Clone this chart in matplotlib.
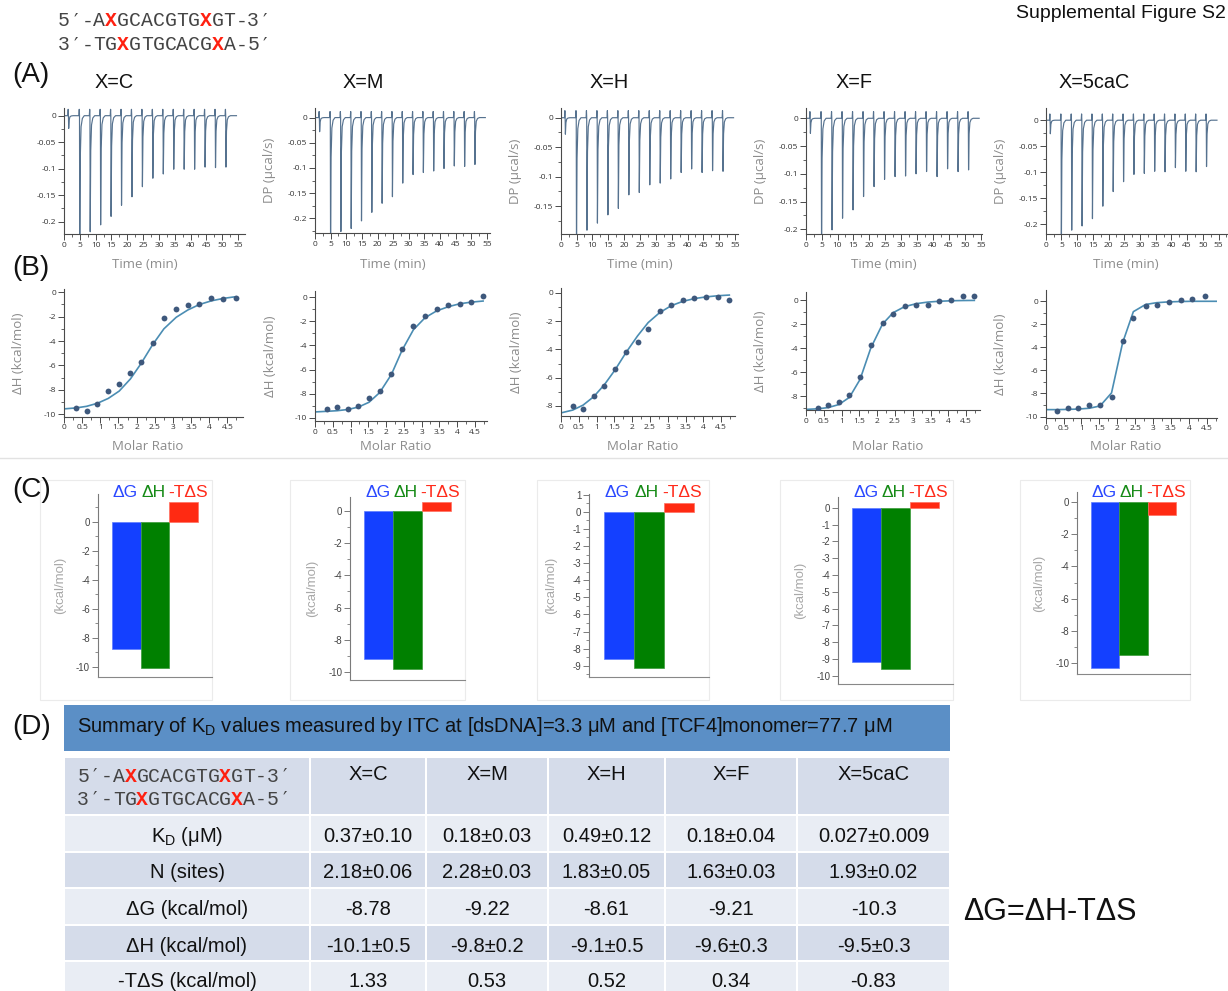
import matplotlib
matplotlib.use('Agg')
import matplotlib.pyplot as plt
from matplotlib.patches import Rectangle
from matplotlib.ticker import MultipleLocator, FuncFormatter
from matplotlib.transforms import blended_transform_factory

plt.rcParams['font.family'] = ['Liberation Sans', 'DejaVu Sans']

# ---------------- data ----------------
variants = ['C', 'M', 'H', 'F', '5caC']
titles = ['X=' + v for v in variants]

seq_top = "5′-AXGCACGTGXGT-3′"
seq_bot = "3′-TGXGTGCACGXA-5′"

# (A) thermograms: injection times (min) and peak depths (µcal/s)
inj_times = [1.4, 4.9, 8.2, 11.5, 14.8, 18.1, 21.4, 24.7, 28.0, 31.3, 34.6, 37.9, 41.2, 44.5, 47.8, 51.1]
depth_C = [-0.024, -0.26, -0.219, -0.206, -0.19, -0.169, -0.153, -0.134, -0.118, -0.110, -0.101, -0.101, -0.101, -0.097, -0.098, -0.097]
depth_M = [-0.028, -0.26, -0.226, -0.22, -0.205, -0.188, -0.17, -0.157, -0.130, -0.113, -0.109, -0.106, -0.101, -0.096, -0.097, -0.093]
depth_H = [-0.028, -0.23, -0.191, -0.179, -0.165, -0.154, -0.131, -0.127, -0.114, -0.111, -0.104, -0.093, -0.087, -0.093, -0.090, -0.091]
depth_F = [-0.027, -0.24, -0.201, -0.180, -0.165, -0.141, -0.123, -0.110, -0.105, -0.104, -0.100, -0.096, -0.105, -0.091, -0.096, -0.093]
depth_5caC = [-0.026, -0.25, -0.211, -0.203, -0.189, -0.165, -0.137, -0.118, -0.104, -0.102, -0.098, -0.099, -0.091, -0.098, -0.099, -0.089]
thermo_depths = [depth_C, depth_M, depth_H, depth_F, depth_5caC]
run_end = 54.5

# (B) isotherms: molar ratio, integrated heats (kcal/mol), fitted curve
ratio_C = [0.33, 0.62, 0.92, 1.22, 1.52, 1.83, 2.12, 2.44, 2.75, 3.09, 3.41, 3.73, 4.06, 4.39, 4.73]
heat_C = [-9.45, -9.73, -9.15, -8.09, -7.54, -6.58, -5.71, -4.15, -2.13, -1.34, -1.07, -0.96, -0.49, -0.57, -0.44]
fit_C = [-9.56, -9.48, -9.35, -9.1, -8.7, -8.1, -7.1, -5.85, -4.3, -3.0, -2.05, -1.45, -1.0, -0.7, -0.5, -0.36]

ratio_M = [0.33, 0.62, 0.92, 1.22, 1.52, 1.82, 2.15, 2.45, 2.77, 3.1, 3.42, 3.75, 4.08, 4.4, 4.73]
heat_M = [-9.26, -9.09, -9.26, -9.0, -8.35, -7.77, -6.36, -4.3, -2.4, -1.57, -0.99, -0.66, -0.58, -0.41, 0.08]
fit_M = [-9.5, -9.45, -9.4, -9.3, -9.1, -8.7, -7.9, -6.4, -4.4, -2.7, -1.7, -1.15, -0.8, -0.55, -0.42, -0.33]

ratio_H = [0.33, 0.62, 0.92, 1.22, 1.52, 1.82, 2.15, 2.45, 2.77, 3.1, 3.42, 3.75, 4.08, 4.4, 4.73]
heat_H = [-8.0, -8.2, -7.3, -6.6, -5.4, -4.2, -3.5, -2.55, -1.3, -0.85, -0.5, -0.35, -0.3, -0.3, -0.5]
fit_H = [-8.5, -8.3, -7.95, -7.35, -6.5, -5.45, -4.25, -3.05, -2.1, -1.4, -0.9, -0.6, -0.4, -0.28, -0.2, -0.15]

ratio_F = [0.33, 0.62, 0.92, 1.22, 1.52, 1.82, 2.15, 2.45, 2.77, 3.1, 3.42, 3.75, 4.08, 4.4, 4.73]
heat_F = [-9.0, -8.75, -8.5, -7.9, -6.4, -3.7, -1.9, -1.15, -0.5, -0.4, -0.4, -0.1, 0.0, 0.35, 0.35]
fit_F = [-9.1, -9.05, -8.95, -8.7, -8.1, -6.6, -4.0, -2.0, -1.05, -0.55, -0.3, -0.17, -0.1, -0.06, -0.04, -0.03]

ratio_5caC = [0.31, 0.62, 0.91, 1.22, 1.52, 1.84, 2.15, 2.45, 2.79, 3.1, 3.44, 3.77, 4.09, 4.45]
heat_5caC = [-9.5, -9.25, -9.25, -9.02, -8.96, -8.32, -3.41, -1.47, -0.43, -0.32, -0.03, 0.12, 0.23, 0.46]
fit_5caC = [-9.4, -9.4, -9.38, -9.35, -9.28, -9.08, -7.95, -3.6, -0.9, -0.28, -0.12, -0.05, -0.02, 0.0, 0.0, 0.0]

iso_ratio = [ratio_C, ratio_M, ratio_H, ratio_F, ratio_5caC]
iso_heat = [heat_C, heat_M, heat_H, heat_F, heat_5caC]
iso_fit = [fit_C, fit_M, fit_H, fit_F, fit_5caC]
iso_fit_x = [[0.0] + ratio_C, [0.0] + ratio_M, [0.0] + ratio_H, [0.0] + ratio_F, [0.0] + ratio_5caC + [4.78]]

# (C)/(D) thermodynamics
dG = [-8.78, -9.22, -8.61, -9.21, -10.3]
dH = [-10.1, -9.8, -9.1, -9.6, -9.5]
dH_err = [0.5, 0.2, 0.5, 0.3, 0.3]
mTdS = [1.33, 0.53, 0.52, 0.34, -0.83]
bar_names = ['ΔG', 'ΔH', '-TΔS']

kd_str = ['0.37±0.10', '0.18±0.03', '0.49±0.12', '0.18±0.04', '0.027±0.009']
n_str = ['2.18±0.06', '2.28±0.03', '1.83±0.05', '1.63±0.03', '1.93±0.02']
row_labels = ['K$_\\mathregular{D}$ (μM)', 'N (sites)', 'ΔG (kcal/mol)', 'ΔH (kcal/mol)', '-TΔS (kcal/mol)']
table_title = 'Summary of K$_\\mathregular{D}$ values measured by ITC at [dsDNA]=3.3 μM and [TCF4]monomer=77.7 μM'

# ---------------- layout ----------------
W, H = 1228, 991
fig = plt.figure(figsize=(W / 100, H / 100), dpi=100)

bg = fig.add_axes([0, 0, 1, 1])
bg.set_xlim(0, W)
bg.set_ylim(H, 0)
bg.axis('off')


def px_axes(box):
    l, t, r, b = box
    return fig.add_axes([l / W, 1 - b / H, (r - l) / W, (b - t) / H])


def gfmt(v, pos):
    s = '%g' % v
    return '0' if s == '-0' else s


def style(ax, family, fs, spine='#4a4a4a', lab='#333333'):
    for s in ['top', 'right']:
        ax.spines[s].set_visible(False)
    for s in ['left', 'bottom']:
        ax.spines[s].set_color(spine)
        ax.spines[s].set_linewidth(0.8)
    ax.tick_params(which='major', length=4, width=0.7, color=spine, labelsize=fs,
                   labelcolor=lab, pad=1.5, labelfontfamily=family)
    ax.tick_params(which='minor', length=2.2, width=0.6, color=spine)
    ax.patch.set_alpha(0)
    ax.xaxis.set_major_formatter(FuncFormatter(gfmt))
    ax.yaxis.set_major_formatter(FuncFormatter(gfmt))


def thermo_trace(times, depths, t_end):
    xs, ys = [0.0], [0.0]
    for t, d in zip(times, depths):
        xs += [t - 0.2, t - 0.08, t, t + 0.08, t + 0.25, t + 0.5, t + 0.9, t + 1.5]
        ys += [0.0, 0.012, 0.0, d, d * 0.3, d * 0.08, d * 0.02, 0.0]
    xs.append(t_end)
    ys.append(0.0)
    return xs, ys


def draw_seq(x0, y, s, size):
    cw = 0.6 * size * 100 / 72
    for k, ch in enumerate(s):
        fam = ['DejaVu Sans'] if ch == '′' else ['Liberation Mono', 'DejaVu Sans Mono']
        if ch == 'X':
            bg.text(x0 + (k + 0.5) * cw, y, ch, color='#ff2010', fontweight='bold',
                    family=fam, fontsize=size, ha='center', va='center')
        else:
            bg.text(x0 + (k + 0.5) * cw, y, ch, color='#444444',
                    family=fam, fontsize=size, ha='center', va='center')


# header texts
draw_seq(58, 21, seq_top, 14.2)
draw_seq(58, 45, seq_bot, 14.2)
bg.text(1016, 14, 'Supplemental Figure S2', fontsize=14, ha='left', va='center', color='#111111')
for lab, y in [('(A)', 75), ('(B)', 268), ('(C)', 490), ('(D)', 727)]:
    bg.text(12, y, lab, fontsize=20, ha='left', va='center', color='#111111')
title_x = [95, 343, 590, 836, 1059]
for tx, t in zip(title_x, titles):
    bg.text(tx, 82, t, fontsize=14.3, ha='left', va='center', color='#111111')

# separator line between B and C
bg.plot([0, W], [458, 458], color='#e2e2e2', lw=1)

# ---------------- (A) thermograms ----------------
thermo_boxes = [(64, 108, 245, 234.3), (315, 108, 490, 233), (560.7, 108.3, 738, 234.3),
                (805.7, 108.3, 982, 234.3), (1045.7, 107.7, 1226.7, 234.3)]
thermo_xmax = [57.2, 56.0, 55.9, 55.4, 57.6]
thermo_ylim = [(-0.2238, 0.0145), (-0.229, 0.019), (-0.198, 0.016), (-0.209, 0.018), (-0.219, 0.024)]

for i in range(5):
    l, t, r, b = thermo_boxes[i]
    ax = px_axes(thermo_boxes[i])
    xs, ys = thermo_trace(inj_times, thermo_depths[i], run_end)
    ax.plot(xs, ys, color='#56728f', lw=0.85)
    ax.set_xlim(0, thermo_xmax[i])
    ax.set_ylim(*thermo_ylim[i])
    ax.xaxis.set_major_locator(MultipleLocator(5))
    ax.xaxis.set_minor_locator(MultipleLocator(2.5))
    ax.yaxis.set_major_locator(MultipleLocator(0.05))
    ax.yaxis.set_minor_locator(MultipleLocator(0.025))
    style(ax, 'Open Sans', 6)
    ax.set_xlabel('Time (min)', fontfamily='Open Sans', fontsize=9.5, color='#8c8c8c')
    ax.xaxis.set_label_coords(0.445, -(264.3 - b) / (b - t))
    ax.xaxis.label.set_va('center')
    if i > 0:
        ax.set_ylabel('DP (µcal/s)', fontfamily='Open Sans', fontsize=9.5, color='#8c8c8c')
        ax.yaxis.set_label_coords(-45 / (r - l), 0.5)
        ax.yaxis.label.set_va('center')

# ---------------- (B) isotherms ----------------
iso_boxes = [(64, 289, 243, 416.7), (315, 291, 487, 421), (561, 288, 735, 416),
             (806, 292, 980, 410), (1045.7, 290, 1216.7, 417.7)]
iso_xmax = [4.93, 4.84, 4.89, 4.89, 4.78]
iso_ylim = [(-10.2, 0.27), (-10.25, 0.5), (-8.72, 0.35), (-9.15, 0.67), (-10.1, 0.98)]

for i in range(5):
    l, t, r, b = iso_boxes[i]
    ax = px_axes(iso_boxes[i])
    ax.plot(iso_fit_x[i], iso_fit[i], color='#4b8db3', lw=1.2, zorder=2)
    ax.plot(iso_ratio[i], iso_heat[i], 'o', color='#3e587c', ms=4.2, mew=0, zorder=3)
    ax.set_xlim(0, iso_xmax[i])
    ax.set_ylim(*iso_ylim[i])
    ax.xaxis.set_major_locator(MultipleLocator(0.5))
    ax.xaxis.set_minor_locator(MultipleLocator(0.25))
    ax.yaxis.set_major_locator(MultipleLocator(2))
    ax.yaxis.set_minor_locator(MultipleLocator(1))
    style(ax, 'Open Sans', 6)
    ax.set_xlabel('Molar Ratio', fontfamily='Open Sans', fontsize=9.5, color='#8c8c8c')
    ax.xaxis.set_label_coords(0.47, -(446.7 - b) / (b - t))
    ax.xaxis.label.set_va('center')
    ax.set_ylabel('ΔH (kcal/mol)', fontfamily='Open Sans', fontsize=9.5, color='#8c8c8c')
    ax.yaxis.set_label_coords(-45 / (r - l), 0.5)
    ax.yaxis.label.set_va('center')

# ---------------- (C) bar charts ----------------
frame_boxes = [(40, 480, 212, 700), (290, 480, 465, 700), (537, 480, 709, 700),
               (780, 480, 953, 700), (1020, 480, 1190, 700)]
for (l, t, r, b) in frame_boxes:
    bg.add_patch(Rectangle((l, t), r - l, b - t, fill=False, edgecolor='#ebebeb', lw=0.8))

bar_boxes = [(97.7, 494, 212.3, 677), (350, 497, 465, 680), (589, 494, 709, 676.7),
             (838, 497, 953, 684), (1077, 492, 1190, 674)]
bar_ylim = [(-10.7, 1.9), (-10.5, 0.87), (-9.63, 1.03), (-10.5, 0.65), (-10.68, 0.62)]
bar_major = [2, 2, 1, 1, 2]
bar_minor = [1, 1, 0.5, None, 1]
bar_colors = ['#1440ff', '#008000', '#ff2a12']
name_colors = ['#2a48ff', '#158a15', '#ff2a1a']
name_x = [-0.47, 0.52, 1.45]

for i in range(5):
    l, t, r, b = bar_boxes[i]
    ax = px_axes(bar_boxes[i])
    ax.bar([0, 1, 2], [dG[i], dH[i], mTdS[i]], width=1.0, color=bar_colors,
           edgecolor=['#5d7cff', '#3a9a3a', '#ff7060'], lw=0.5)
    ax.set_xlim(-1, 3)
    ax.set_ylim(*bar_ylim[i])
    ax.set_xticks([])
    ax.yaxis.set_major_locator(MultipleLocator(bar_major[i]))
    if bar_minor[i]:
        ax.yaxis.set_minor_locator(MultipleLocator(bar_minor[i]))
    style(ax, 'Liberation Sans', 7, spine='#7a7a7a', lab='#444444')
    ax.spines['bottom'].set_color('#888888')
    ax.set_ylabel('(kcal/mol)', fontsize=9.5, color='#a8a8a8')
    ax.yaxis.set_label_coords(-38 / (r - l), 0.5)
    ax.yaxis.label.set_va('center')
    tr = blended_transform_factory(ax.transData, ax.transAxes)
    for nm, nx, nc in zip(bar_names, name_x, name_colors):
        ax.text(nx, 1 + (t - 492.7) / (b - t), nm, transform=tr, color=nc,
                fontsize=12.5, ha='left', va='center', clip_on=False)

# ---------------- (D) table ----------------
bg.add_patch(Rectangle((64, 705), 950 - 64, 46, facecolor='#5b8fc6', edgecolor='none'))
bg.text(77, 726, table_title, fontsize=14.5, ha='left', va='center', color='#111111')

col_edges = [64, 310, 426, 548, 665, 797, 950]
row_edges = [757, 815, 852, 888, 925, 961, 1000]
row_colors = ['#d5dcea', '#e9edf4', '#d5dcea', '#e9edf4', '#d5dcea', '#e9edf4']
for ri in range(6):
    for ci in range(6):
        x0, x1 = col_edges[ci], col_edges[ci + 1]
        y0, y1 = row_edges[ri], row_edges[ri + 1]
        bg.add_patch(Rectangle((x0 + 1.2, y0 + 1.2), x1 - x0 - 2.4, y1 - y0 - 2.4,
                               facecolor=row_colors[ri], edgecolor='none'))

col_centers = [(col_edges[k] + col_edges[k + 1]) / 2 for k in range(6)]
draw_seq(77.3, 776, seq_top, 14.2)
draw_seq(77.3, 799.3, seq_bot, 14.2)
for ci, tt in enumerate(titles):
    bg.text(col_centers[ci + 1], 775, tt, fontsize=14.5, ha='center', va='center', color='#111111')

row_y = [836, 872.7, 909.3, 946, 981.7]
table_vals = [kd_str, n_str, [str(v) for v in dG],
              ['%s±%s' % (v, e) for v, e in zip(dH, dH_err)], [str(v) for v in mTdS]]
for ri in range(5):
    bg.text(col_centers[0], row_y[ri], row_labels[ri], fontsize=14.5, ha='center', va='center', color='#111111')
    for ci in range(5):
        bg.text(col_centers[ci + 1], row_y[ri], table_vals[ri][ci], fontsize=14.5,
                ha='center', va='center', color='#111111')

bg.text(963, 912, 'ΔG=ΔH-TΔS', fontsize=22, ha='left', va='center', color='#111111')

fig.savefig('out.png', dpi=100)
